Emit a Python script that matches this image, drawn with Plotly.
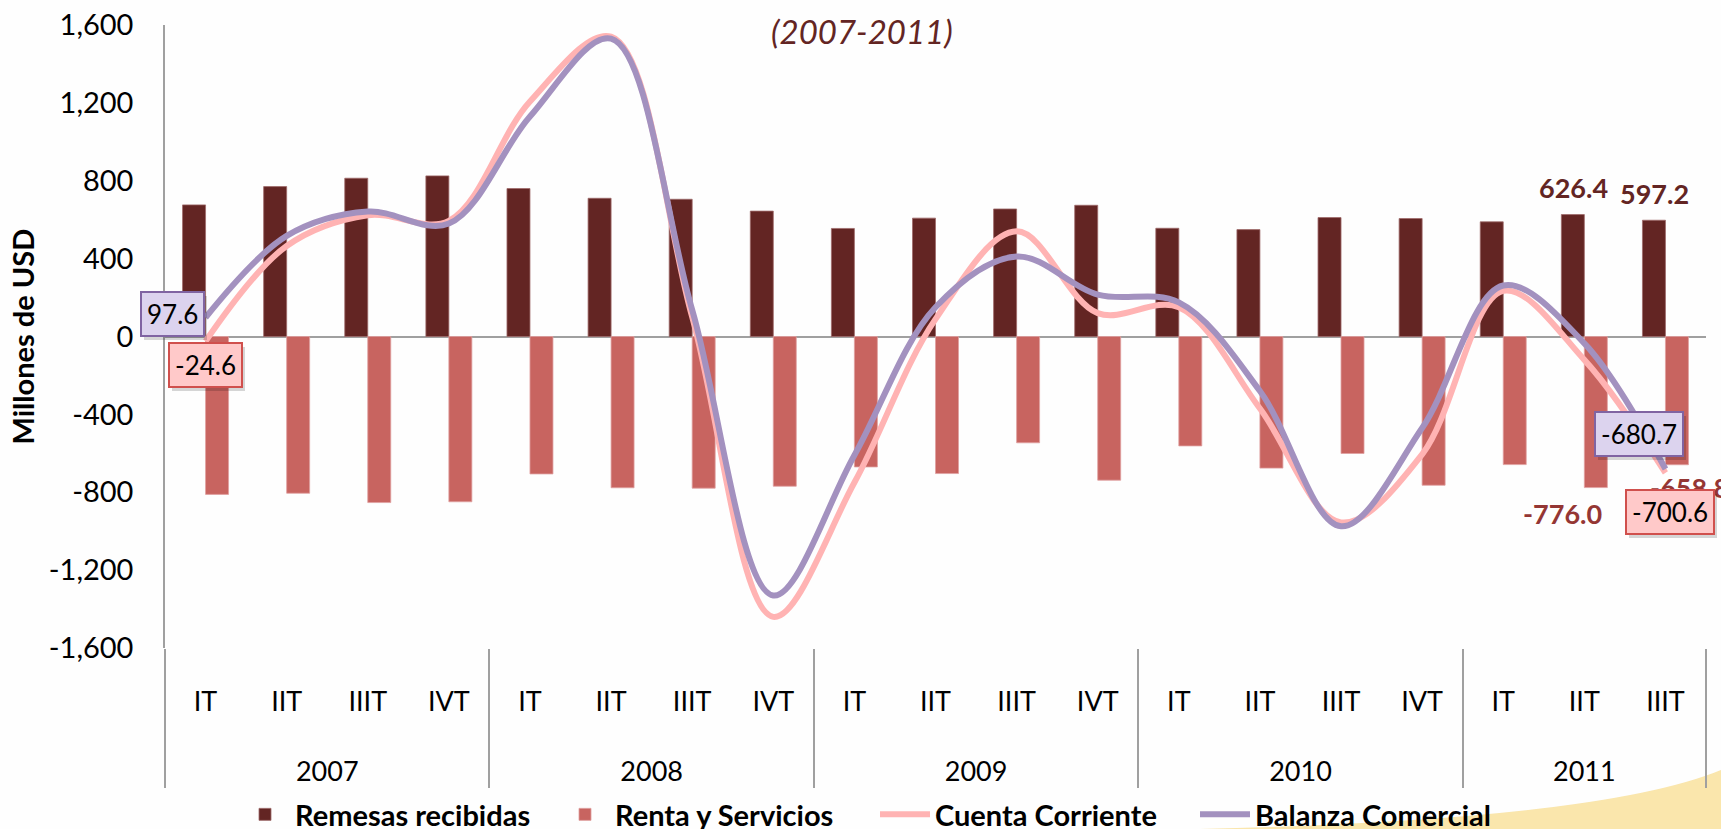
import plotly.graph_objects as go

# ---------------- data ----------------
years = ['2007'] * 4 + ['2008'] * 4 + ['2009'] * 4 + ['2010'] * 4 + ['2011'] * 3
quarters = ['IT', 'IIT', 'IIIT', 'IVT'] * 4 + ['IT', 'IIT', 'IIIT']

remesas = [676, 770, 813, 825, 760, 710, 705, 644, 555, 608, 655, 674,
           556, 549, 611, 606, 589, 626.4, 597.2]
renta = [-811, -805, -853, -849, -706, -777, -779, -769, -670, -704, -546, -738,
         -562, -676, -601, -764, -658, -776.0, -658.8]
cuenta_corriente = [-24.6, 465, 623, 594, 1207, 1540, 100, -1440, -750, 89, 540, 120,
                    150, -370, -955, -605, 235, -120, -700.6]
balanza_comercial = [97.6, 517, 642, 580, 1130, 1530, 137, -1330, -610, 150, 411, 215,
                     175, -280, -975, -470, 262, -35, -680.7]

y_tickvals = [-1600, -1200, -800, -400, 0, 400, 800, 1200, 1600]
y_ticktext = ['-1,600', '-1,200', '-800', '-400', '0', '400', '800', '1,200', '1,600']

title_text = '(2007-2011)'
y_title = 'Millones de USD'

# ---------------- styles ----------------
FONT = 'Lato'
C_REM = '#632523'
C_REN = '#C86460'
C_CC = '#FFB3B3'
C_BC = '#A391BF'

W, H = 1721, 829
L, R, T, B = 165, 15, 25, 181
PW, PH = W - L - R, H - T - B

# leading line breaks push the two label rows down like the original
x_multi = [['<br><br>' + y for y in years], ['<br>' + q for q in quarters]]
n = len(quarters)

fig = go.Figure()
fig.add_trace(go.Bar(x=x_multi, y=remesas, name='Remesas recibidas',
                     marker=dict(color=C_REM, line=dict(color='#9E6A6A', width=0.8))))
fig.add_trace(go.Bar(x=x_multi, y=renta, name='Renta y Servicios',
                     marker=dict(color=C_REN, line=dict(color='#E0A0A0', width=0.8))))
fig.add_trace(go.Scatter(x=x_multi, y=cuenta_corriente, name='Cuenta Corriente',
                         mode='lines', line=dict(color=C_CC, width=6, shape='spline', smoothing=1.0)))
fig.add_trace(go.Scatter(x=x_multi, y=balanza_comercial, name='Balanza Comercial',
                         mode='lines', line=dict(color=C_BC, width=6, shape='spline', smoothing=1.0)))


def px(i):
    return (i + 0.5) / n


annotations = []


def label(i, y, text, color, dx, dy):
    annotations.append(dict(x=px(i), xref='paper', y=y, yref='y', text=text, showarrow=False,
                            xanchor='center', yanchor='middle', xshift=dx, yshift=dy,
                            font=dict(family=FONT, size=27, color=color, weight='bold')))


def box(i, y, text, bg, border, dx, dy):
    annotations.append(dict(x=px(i), xref='paper', y=y, yref='y', text=text, showarrow=False,
                            xanchor='center', yanchor='middle',
                            xshift=dx + 3, yshift=dy - 4, bgcolor='rgba(0,0,0,0.16)',
                            bordercolor='rgba(0,0,0,0)', borderwidth=2, borderpad=5,
                            font=dict(family=FONT, size=26, color='rgba(0,0,0,0)')))
    annotations.append(dict(x=px(i), xref='paper', y=y, yref='y', text=text, showarrow=False,
                            xanchor='center', yanchor='middle',
                            xshift=dx, yshift=dy, bgcolor=bg, bordercolor=border,
                            borderwidth=2, borderpad=5,
                            font=dict(family=FONT, size=26, color='black')))


# bar data labels
label(17, remesas[17], f'{remesas[17]:.1f}', C_REM, -11, 27)
label(18, remesas[18], f'{remesas[18]:.1f}', C_REM, -11, 27)
label(17, renta[17], f'{renta[17]:.1f}', '#943634', -22, -26)
label(18, renta[18], f'{renta[18]:.1f}', '#943634', 24, -23)

# line value boxes
box(0, balanza_comercial[0], f'{balanza_comercial[0]:.1f}', '#DCD3EE', '#8064A2', -33, 4)
box(0, cuenta_corriente[0], f'{cuenta_corriente[0]:.1f}', '#FFC9C9', '#D0504D', 0, -24)
box(18, balanza_comercial[-1], f'{balanza_comercial[-1]:.1f}', '#DCD3EE', '#8064A2', -26, 35)
box(18, cuenta_corriente[-1], f'{cuenta_corriente[-1]:.1f}', '#FFC9C9', '#D0504D', 5, -39)

# title
annotations.append(dict(x=(862 - L) / PW, xref='paper', y=(H - B - 31) / PH, yref='paper',
                        xanchor='center', yanchor='middle', text=title_text, showarrow=False,
                        font=dict(family=FONT, size=33, color=C_REM, style='italic')))
# y axis title
annotations.append(dict(x=(22 - L) / PW, xref='paper', y=0.5, yref='paper',
                        xanchor='center', yanchor='middle', textangle=-90, text=y_title,
                        showarrow=False,
                        font=dict(family=FONT, size=29, color='black', weight='bold')))

fig.update_layout(
    width=W, height=H,
    margin=dict(l=L, r=R, t=T, b=B, autoexpand=False),
    paper_bgcolor='#FEFEFE', plot_bgcolor='#FEFEFE',
    barmode='group', bargap=0.433, bargroupgap=0,
    font=dict(family=FONT, size=24, color='black'),
    showlegend=True,
    legend=dict(orientation='h', x=(235 - L) / PW, xanchor='left',
                y=-(840 - (H - B)) / PH, yanchor='bottom',
                font=dict(family=FONT, size=29, color='black', weight='bold'),
                bgcolor='rgba(0,0,0,0)', itemwidth=50, traceorder='normal',
                entrywidth=255, entrywidthmode='pixels'),
    annotations=annotations,
    shapes=[dict(type='path', xref='paper', yref='paper', layer='below',
                 path='M %f,%f Q %f,%f %f,%f L %f,%f Z' % (
                     (1200 - L) / PW, -(829 - (H - B)) / PH,
                     (1600 - L) / PW, -(820 - (H - B)) / PH,
                     (1721 - L) / PW, -(770 - (H - B)) / PH,
                     (1721 - L) / PW, -(829 - (H - B)) / PH),
                 fillcolor='rgba(245,205,90,0.5)', line=dict(width=0))],
)

fig.update_xaxes(type='multicategory', showline=False, showgrid=False, zeroline=False,
                 showdividers=True, dividercolor='#A0A0A0', dividerwidth=1.5,
                 ticks='', tickfont=dict(family=FONT, size=27, color='black'),
                 automargin=False)
fig.update_yaxes(range=[-1600, 1600], tickvals=y_tickvals, ticktext=y_ticktext,
                 showgrid=False, zeroline=True, zerolinecolor='#A0A0A0', zerolinewidth=2,
                 showline=True, linecolor='#A0A0A0', linewidth=1.5, ticks='',
                 tickfont=dict(family=FONT, size=29, color='black'), ticklabelstandoff=24,
                 automargin=False)

fig.write_html('out.html', config={'displayModeBar': False},
               post_script="document.body.style.margin='0';document.body.style.padding='0';"
                           "document.body.style.overflow='hidden';")
